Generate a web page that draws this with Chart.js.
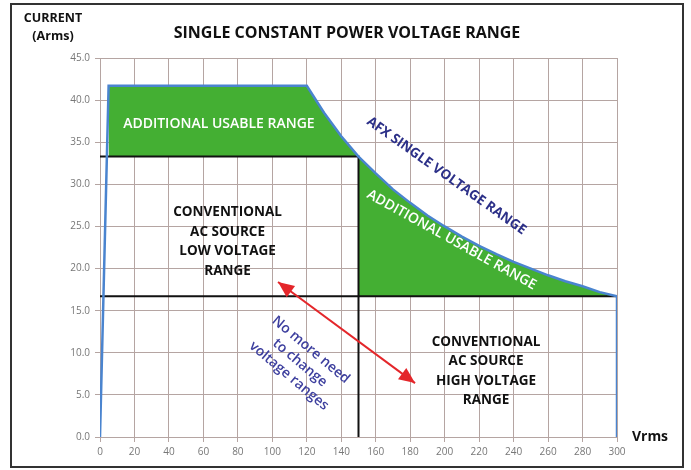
<!DOCTYPE html>
<html>
<head>
<meta charset="utf-8">
<script src="https://cdn.jsdelivr.net/npm/chart.js@4.4.0/dist/chart.umd.min.js"></script>
<style>
    html, body { margin: 0; padding: 0; background: #fff; }
</style>
</head>
<body>
<canvas id="powerChart" width="691" height="470"></canvas>
<script>
// AFX single voltage range: current limit (Arms) against voltage (Vrms)
const afxVolts = [0, 5, 120, 130, 140, 150, 160, 170, 180, 190, 200, 210, 220, 230, 240, 250, 260, 270, 280, 290, 300, 300];
const afxAmps = [0, 41.7, 41.7, 38.5, 35.7, 33.3, 31.3, 29.4, 27.8, 26.3, 25.0, 23.8, 22.7, 21.7, 20.8, 20.0, 19.2, 18.5, 17.9, 17.2, 16.7, 0];

// conventional AC source ranges
const lowRangeVolts = 150;
const lowRangeAmps = 33.3;
const highRangeVolts = 300;
const highRangeAmps = 16.7;

const xTicks = [0, 20, 40, 60, 80, 100, 120, 140, 160, 180, 200, 220, 240, 260, 280, 300];
const yTicks = [0, 5, 10, 15, 20, 25, 30, 35, 40, 45];

const pts = (xs, ys) => xs.map((x, i) => ({ x, y: ys[i] }));

// split the AFX curve into the two "additional usable" pieces
const kneeIdx = afxVolts.indexOf(lowRangeVolts);
const upperGreen = pts(afxVolts.slice(1, kneeIdx + 1), afxAmps.slice(1, kneeIdx + 1));
const lowerGreen = pts(afxVolts.slice(kneeIdx, afxVolts.length - 1), afxAmps.slice(kneeIdx, afxAmps.length - 1));

const GREEN = '#44af33';
const BLUE = '#4a84cf';
const GRID = '#b5a5a2';
const FONT = '"Open Sans", "DejaVu Sans", sans-serif';

function drawLines(ctx, lines, x, y, angle, font, color, lineH) {
    ctx.save();
    ctx.translate(x, y);
    ctx.rotate(angle * Math.PI / 180);
    ctx.font = font;
    ctx.fillStyle = color;
    ctx.textAlign = 'center';
    ctx.textBaseline = 'middle';
    const off = (lines.length - 1) * lineH / 2;
    lines.forEach((t, i) => ctx.fillText(t, 0, i * lineH - off));
    ctx.restore();
}

function arrowHead(ctx, fx, fy, tx, ty, len, half) {
    const a = Math.atan2(ty - fy, tx - fx);
    ctx.beginPath();
    ctx.moveTo(tx, ty);
    ctx.lineTo(tx - len * Math.cos(a) + half * Math.sin(a), ty - len * Math.sin(a) - half * Math.cos(a));
    ctx.lineTo(tx - len * Math.cos(a) - half * Math.sin(a), ty - len * Math.sin(a) + half * Math.cos(a));
    ctx.closePath();
    ctx.fill();
}

const notes = {
    id: 'notes',
    beforeDraw(chart) {
        const ctx = chart.ctx;
        ctx.save();
        ctx.fillStyle = '#fff';
        ctx.fillRect(0, 0, chart.width, chart.height);
        ctx.restore();
    },
    afterDatasetsDraw(chart) {
        const ctx = chart.ctx;
        const xs = chart.scales.x, ys = chart.scales.y;
        const px = v => xs.getPixelForValue(v);
        const py = v => ys.getPixelForValue(v);

        drawLines(ctx, ['ADDITIONAL USABLE RANGE'], px(69), py(37.2), 0, '600 14px ' + FONT, '#fff', 0);
        drawLines(ctx, ['ADDITIONAL USABLE RANGE'], px(204), py(23.4), 29, '600 14px ' + FONT, '#fff', 0);
        drawLines(ctx, ['AFX SINGLE VOLTAGE RANGE'], px(201), py(31.0), 35.5, 'bold 13.5px ' + FONT, '#2c3088', 0);
        drawLines(ctx, ['CONVENTIONAL', 'AC SOURCE', 'LOW VOLTAGE', 'RANGE'], px(74), py(23.2), 0, 'bold 13.5px ' + FONT, '#111', 19.5);
        drawLines(ctx, ['CONVENTIONAL', 'AC SOURCE', 'HIGH VOLTAGE', 'RANGE'], px(224), py(7.8), 0, 'bold 13.5px ' + FONT, '#111', 19.5);
        drawLines(ctx, ['No more need', 'to change', 'voltage ranges'], px(116), py(8.8), 40, '600 14px ' + FONT, '#3d3f9e', 17);

        // red double arrow
        const ax = px(103.3), ay = py(18.4), bx = px(182.8), by = py(6.4);
        ctx.save();
        ctx.strokeStyle = '#e4262a';
        ctx.fillStyle = '#e4262a';
        ctx.lineWidth = 2;
        ctx.beginPath();
        ctx.moveTo(ax, ay);
        ctx.lineTo(bx, by);
        ctx.stroke();
        arrowHead(ctx, bx, by, ax, ay, 16, 7);
        arrowHead(ctx, ax, ay, bx, by, 16, 7);
        ctx.restore();
    },
    afterDraw(chart) {
        const ctx = chart.ctx;
        ctx.save();
        ctx.strokeStyle = '#333';
        ctx.lineWidth = 2;
        ctx.strokeRect(11, 4, 672, 463);
        ctx.restore();

        drawLines(ctx, ['SINGLE CONSTANT POWER VOLTAGE RANGE'], 347, 33, 0, 'bold 16px ' + FONT, '#111', 0);
        drawLines(ctx, ['CURRENT', '(Arms)'], 53, 27, 0, 'bold 12.5px ' + FONT, '#111', 18);
        drawLines(ctx, ['Vrms'], 650, 437, 0, 'bold 14px ' + FONT, '#111', 0);
    }
};

new Chart(document.getElementById('powerChart'), {
    type: 'scatter',
    data: {
        datasets: [
            { data: pts(afxVolts, afxAmps), showLine: true, borderColor: BLUE, borderWidth: 2.5, pointRadius: 0, fill: false, order: 0 },
            { data: [{ x: 0, y: lowRangeAmps }, { x: lowRangeVolts, y: lowRangeAmps }, { x: lowRangeVolts, y: 0 }], showLine: true, borderColor: '#111', borderWidth: 2, pointRadius: 0, fill: false, order: 1 },
            { data: [{ x: 0, y: highRangeAmps }, { x: highRangeVolts, y: highRangeAmps }], showLine: true, borderColor: '#111', borderWidth: 2, pointRadius: 0, fill: false, order: 1 },
            { data: upperGreen, showLine: true, borderWidth: 0, borderColor: GREEN, backgroundColor: GREEN, pointRadius: 0, fill: { value: lowRangeAmps }, order: 2 },
            { data: lowerGreen, showLine: true, borderWidth: 0, borderColor: GREEN, backgroundColor: GREEN, pointRadius: 0, fill: { value: highRangeAmps }, order: 2 }
        ]
    },
    options: {
        responsive: false,
        animation: false,
        layout: { padding: { left: 0, top: 58, right: 74, bottom: 0 } },
        plugins: { legend: { display: false }, tooltip: { enabled: false } },
        scales: {
            x: {
                type: 'linear', min: 0, max: 300,
                afterBuildTicks: s => { s.ticks = xTicks.map(v => ({ value: v })); },
                afterFit: s => { s.height = 33; },
                grid: { color: GRID, tickLength: 5 },
                border: { color: GRID },
                ticks: { color: '#777', font: { family: FONT, size: 10 }, padding: 4, maxRotation: 0 }
            },
            y: {
                min: 0, max: 45,
                afterBuildTicks: s => { s.ticks = yTicks.map(v => ({ value: v })); },
                afterFit: s => { s.width = 100; },
                grid: { color: GRID, tickLength: 5 },
                border: { color: GRID },
                ticks: { color: '#777', font: { family: FONT, size: 10 }, padding: 5, callback: v => v.toFixed(1) }
            }
        }
    },
    plugins: [notes]
});
</script>
</body>
</html>
